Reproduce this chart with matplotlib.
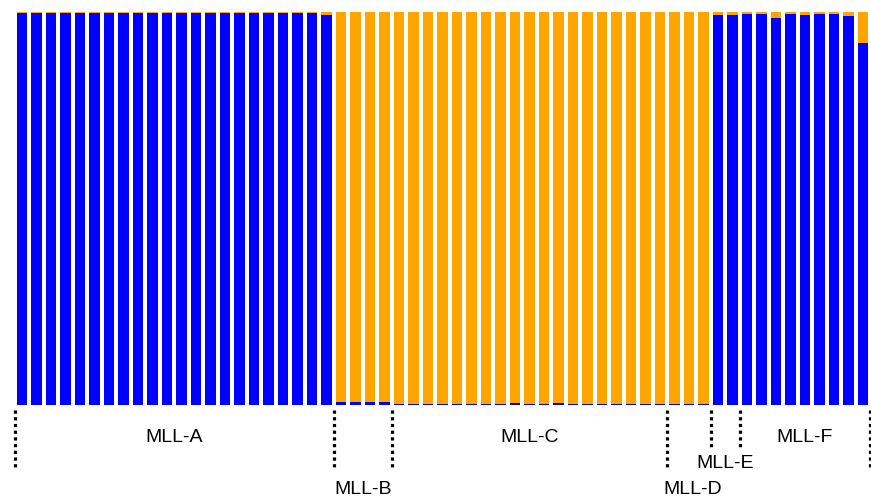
import numpy as np
import matplotlib
matplotlib.use('Agg')
import matplotlib.pyplot as plt

plt.rcParams['font.family'] = ['Liberation Sans', 'DejaVu Sans']

# ancestry fractions per individual (orange cluster), blue = 1 - orange
groups = ['MLL-A', 'MLL-B', 'MLL-C', 'MLL-D', 'MLL-E', 'MLL-F']
orange_A = [0.003] * 21 + [0.008]
orange_B = [0.992, 0.992, 0.992, 0.992]
orange_C = [0.997] * 8 + [0.994, 0.997, 0.997, 0.995] + [0.997] * 7
orange_D = [0.997, 0.997, 0.997]
orange_E = [0.008, 0.008]
orange_F = [0.005, 0.005, 0.015, 0.005, 0.007, 0.005, 0.004, 0.010, 0.08]

group_vals = [orange_A, orange_B, orange_C, orange_D, orange_E, orange_F]
orange = np.concatenate(group_vals)
blue = 1 - orange
sizes = [len(g) for g in group_vals]
x = np.arange(len(orange))

fig = plt.figure(figsize=(8.71, 5), dpi=100)
ax = fig.add_axes([0, 0, 1, 1])

ax.bar(x, blue, width=0.7, color='#0000ff')
ax.bar(x, orange, bottom=blue, width=0.7, color='#ffa500')

# pixel rows (from top) -> data y
def py(p):
    return (405 - p) / 393.0

bounds = np.concatenate([[0], np.cumsum(sizes)]) - 0.5
line_bot = [470, 470, 470, 470, 450, 450, 470]
for b, lb in zip(bounds, line_bot):
    ax.plot([b, b], [py(410), py(lb)], color='black', lw=2.3,
            linestyle=(0, (1, 1.1)), solid_capstyle='butt', dash_capstyle='butt')

label_rows = [437, 490, 437, 490, 464, 437]
for i, g in enumerate(groups):
    cx = (bounds[i] + bounds[i + 1]) / 2
    if g == 'MLL-D':
        cx += 0.25
    ax.text(cx, py(label_rows[i]), g, ha='center', va='center', fontsize=14)

ax.set_xlim(-22 / 14.5, (871 - 22) / 14.5)
ax.set_ylim(py(500), py(0))
ax.axis('off')

fig.savefig('out.png', dpi=100)
